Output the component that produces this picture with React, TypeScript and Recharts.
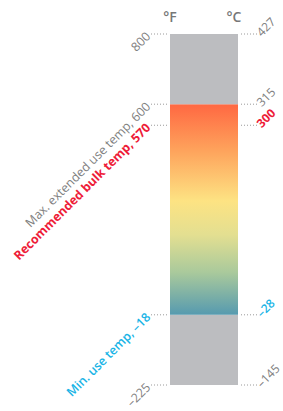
import React from 'react';
import { ComposedChart, Bar, Line, XAxis, YAxis, Customized } from 'recharts';

// Schematic band heights (gray above/below the usable range, gradient in between)
const bandNames = ['below', 'operating', 'above'];
const bandHeights = [1, 3, 1];

// Schematic levels of the marked temperatures on the bar
const tickLevels = [0, 1, 3.7, 4, 5];
const fahrenheitLabels = [
  '–225',
  'Min. use temp, –18',
  'Recommended bulk temp, 570',
  'Max. extended use temp, 600',
  '800',
];
const celsiusLabels = ['–145', '–28', '300', '315', '427'];
const tickKinds = ['limit', 'min', 'recommended', 'max', 'limit'];
const unitHeaders = ['°F', '°C'];

const chartData = [
  bandNames.reduce(
    (row: Record<string, number | string>, name, i) => {
      row[name] = bandHeights[i];
      return row;
    },
    { name: 'range' } as Record<string, number | string>
  ),
];

const FONT = '"Open Sans", "Noto Sans", sans-serif';
const kindStyle: Record<string, { fill: string; fontWeight: number }> = {
  limit: { fill: '#808080', fontWeight: 400 },
  max: { fill: '#808080', fontWeight: 400 },
  min: { fill: '#19b4e6', fontWeight: 600 },
  recommended: { fill: '#ee1c38', fontWeight: 700 },
};

const GRAY = '#bcbdc0';

const makeTick = (side: 'left' | 'right') => (props: any) => {
  const { x, y, payload } = props;
  const i = tickLevels.indexOf(payload.value);
  if (i < 0) return null;
  const kind = tickKinds[i];
  const st = kindStyle[kind];
  const text = side === 'left' ? fahrenheitLabels[i] : celsiusLabels[i];
  const dir = side === 'left' ? -1 : 1;
  const x1 = x + dir * 3;
  const x2 = x + dir * 19;
  const tx = x + dir * (side === 'left' ? 22 : 20.5);
  return (
    <g>
      <line x1={x1} y1={y} x2={x2} y2={y} stroke="#9a9a9a" strokeWidth={1} strokeDasharray="1 2" />
      <text
        x={tx}
        y={y}
        transform={`rotate(-45 ${tx} ${y})`}
        textAnchor={side === 'left' ? 'end' : 'start'}
        dominantBaseline="central"
        fontFamily={FONT}
        fontSize={side === 'left' ? 12.4 : 12}
        fill={st.fill}
        fontWeight={st.fontWeight}
      >
        {text}
      </text>
    </g>
  );
};

const Headers = () => (
  <g>
    {unitHeaders.map((h, i) => (
      <text
        key={h}
        x={i === 0 ? 170 : 234}
        y={22}
        textAnchor="middle"
        fontFamily={FONT}
        fontSize={14}
        fontWeight={600}
        fill="#777777"
      >
        {h}
      </text>
    ))}
  </g>
);

export default function App() {
  return (
    <div style={{ position: 'absolute', left: 0, top: 0 }}>
      <ComposedChart
        width={283}
        height={411}
        data={chartData}
        margin={{ top: 34, bottom: 26, left: 150, right: 25 }}
        barCategoryGap={0}
      >
        <defs>
          <linearGradient id="tempGradient" x1="0" y1="0" x2="0" y2="1">
            <stop offset="0%" stopColor="#ff6842" />
            <stop offset="22%" stopColor="#fea35c" />
            <stop offset="46%" stopColor="#fde383" />
            <stop offset="62%" stopColor="#e3df91" />
            <stop offset="80%" stopColor="#a9c99c" />
            <stop offset="100%" stopColor="#569aaf" />
          </linearGradient>
        </defs>
        <XAxis dataKey="name" type="category" hide />
        <YAxis
          yAxisId="f"
          orientation="left"
          width={20}
          type="number"
          domain={[0, 5]}
          ticks={tickLevels}
          interval={0}
          axisLine={false}
          tickLine={false}
          tickSize={0}
          tickMargin={0}
          tick={makeTick('left')}
        />
        <YAxis
          yAxisId="c"
          orientation="right"
          width={20}
          type="number"
          domain={[0, 5]}
          ticks={tickLevels}
          interval={0}
          axisLine={false}
          tickLine={false}
          tickSize={0}
          tickMargin={0}
          tick={makeTick('right')}
        />
        <Bar yAxisId="f" dataKey="below" stackId="t" fill={GRAY} isAnimationActive={false} />
        <Bar yAxisId="f" dataKey="operating" stackId="t" fill="url(#tempGradient)" isAnimationActive={false} />
        <Bar yAxisId="f" dataKey="above" stackId="t" fill={GRAY} isAnimationActive={false} />
        <Line
          yAxisId="c"
          dataKey="below"
          stroke="none"
          strokeOpacity={0}
          dot={{ r: 0, fill: 'none', stroke: 'none' }}
          activeDot={false}
          legendType="none"
          isAnimationActive={false}
        />
        <Customized component={Headers} />
      </ComposedChart>
    </div>
  );
}
